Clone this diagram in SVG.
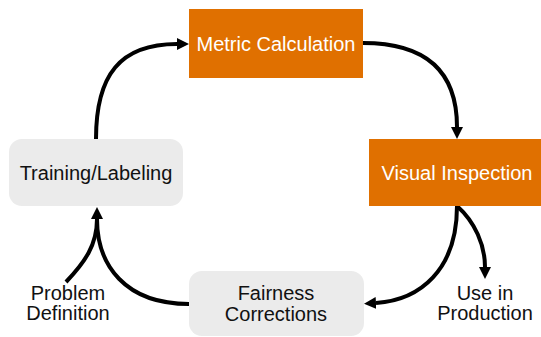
<svg xmlns="http://www.w3.org/2000/svg" width="541" height="337" viewBox="0 0 541 337">
<style>
.orange{fill:#E07000}
.grey{fill:#EBEBEB}
.lw{font-family:"Liberation Sans",Arial,sans-serif;font-size:20px;fill:#FFFFFF;text-anchor:middle}
.lb{font-family:"Liberation Sans",Arial,sans-serif;font-size:20px;fill:#111111;text-anchor:middle}
.edge{fill:none;stroke:#000;stroke-width:4}
</style>
<defs>
<marker id="ah" viewBox="0 0 12 12" markerWidth="12" markerHeight="12" markerUnits="userSpaceOnUse" refX="0" refY="6" orient="auto">
<path d="M0,0 L12,6 L0,12 z" fill="#000"/>
</marker>
</defs>
<rect width="541" height="337" fill="#FFFFFF"/>
<g id="connectors">
<path class="edge" d="M96 139 C96 75 120 44 177 44" marker-end="url(#ah)"/>
<path class="edge" d="M363 43 C425 43 457 70 457 127" marker-end="url(#ah)"/>
<path class="edge" d="M457 206 C457 270 420 300 376 303" marker-end="url(#ah)"/>
<path class="edge" d="M457 206 C475 222 485 245 485 267" marker-end="url(#ah)"/>
<path class="edge" d="M189 304 C125 304 97 265 97 219" marker-end="url(#ah)"/>
<path class="edge" d="M66 282 C85 262 97 245 97 219"/>
</g>
<g id="metric">
<rect class="orange" x="189" y="9" width="174" height="69"/>
<text class="lw" x="276" y="51">Metric Calculation</text>
</g>
<g id="visual">
<rect class="orange" x="369" y="139" width="172" height="67"/>
<text class="lw" x="457" y="180">Visual Inspection</text>
</g>
<g id="training">
<rect class="grey" x="9" y="139" width="174" height="67" rx="13"/>
<text class="lb" x="96" y="180">Training/Labeling</text>
</g>
<g id="fairness">
<rect class="grey" x="189" y="271" width="175" height="65" rx="13"/>
<text class="lb" x="276" y="300">Fairness</text>
<text class="lb" x="276" y="321">Corrections</text>
</g>
<g id="problem">
<text class="lb" x="68" y="300">Problem</text>
<text class="lb" x="68" y="320">Definition</text>
</g>
<g id="production">
<text class="lb" x="485" y="300">Use in</text>
<text class="lb" x="485" y="320">Production</text>
</g>
</svg>
